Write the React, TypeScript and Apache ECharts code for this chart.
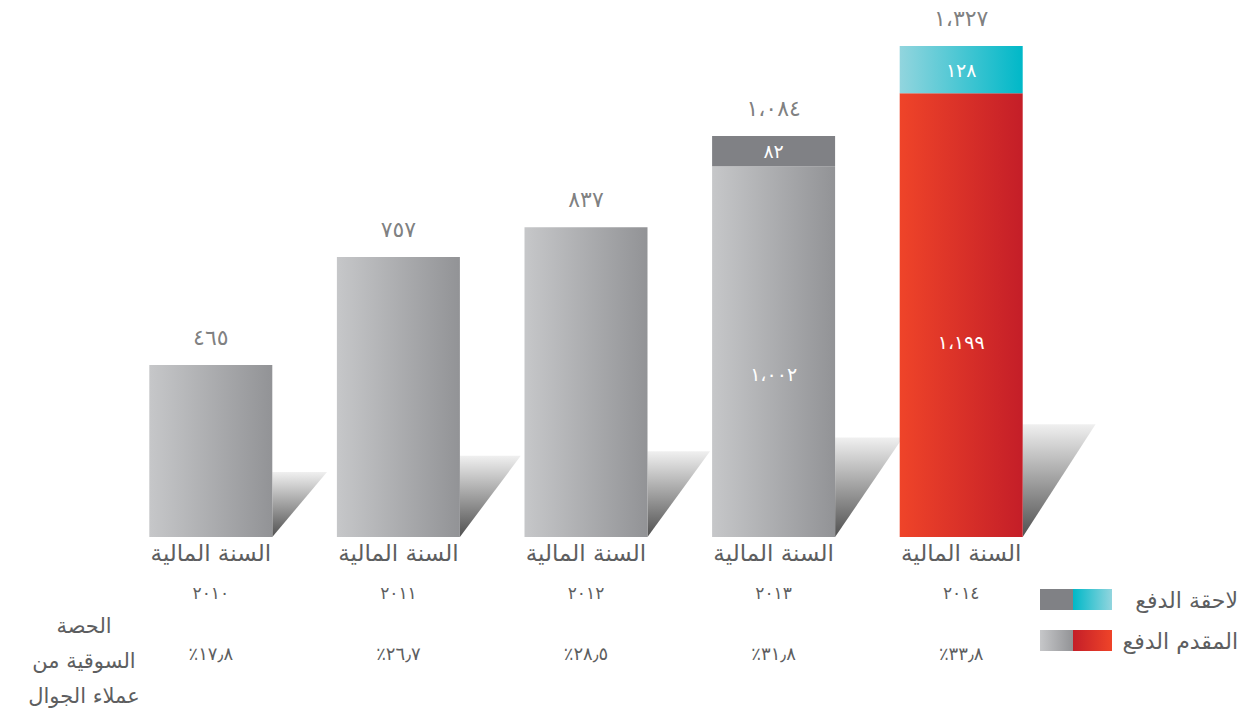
import React, { useEffect, useRef } from "react";
import * as echarts from "echarts";

const years = ["٢٠١٠", "٢٠١١", "٢٠١٢", "٢٠١٣", "٢٠١٤"];
const yearPrefix = "السنة المالية";
const prepaid = [465, 757, 837, 1002, 1199];
const postpaid: (number | null)[] = [null, null, null, 82, 128];
const totals = [465, 757, 837, 1084, 1327];
const totalLabels = ["٤٦٥", "٧٥٧", "٨٣٧", "١،٠٨٤", "١،٣٢٧"];
const prepaidLabels = ["", "", "", "١،٠٠٢", "١،١٩٩"];
const postpaidLabels = ["", "", "", "٨٢", "١٢٨"];
const marketShare = ["٪١٧٫٨", "٪٢٦٫٧", "٪٢٨٫٥", "٪٣١٫٨", "٪٣٣٫٨"];
const shareTitle = "الحصة\nالسوقية من\nعملاء الجوال";
const legendPost = "لاحقة الدفع";
const legendPre = "المقدم الدفع";

const FONT = "DejaVu Sans";
const BAR_W = 123;
const TEXT = "#5d5e60";

const grad = (c0: string, c1: string) =>
  new echarts.graphic.LinearGradient(0, 0, 1, 0, [
    { offset: 0, color: c0 },
    { offset: 1, color: c1 },
  ]);

export default function App() {
  const ref = useRef<HTMLDivElement>(null);
  useEffect(() => {
    if (!ref.current) return;
    const chart = echarts.init(ref.current, null, { renderer: "svg" });
    const greyG = () => grad("#c6c7c9", "#929396");
    const redG = () => grad("#ef4429", "#c41e28");
    const cyanG = () => grad("#92d5de", "#00b8c8");

    const option: any = {
      animation: false,
      grid: { left: 117, right: 194, top: 19, bottom: 171 },
      xAxis: [
        {
          type: "category",
          data: years,
          position: "bottom",
          axisLine: { show: false },
          axisTick: { show: false },
          axisLabel: {
            margin: 1,
            formatter: (v: string) => `{a|${yearPrefix}}\n{b|${v}}`,
            rich: {
              a: { fontFamily: FONT, fontSize: 23, color: TEXT, lineHeight: 30 },
              b: { fontFamily: FONT, fontSize: 17, color: TEXT, lineHeight: 50 },
            },
          },
        },
        {
          type: "category",
          data: marketShare,
          position: "bottom",
          axisLine: { show: false },
          axisTick: { show: false },
          axisLabel: {
            margin: 104,
            fontFamily: FONT,
            fontSize: 18,
            color: TEXT,
            lineHeight: 24,
          },
        },
      ],
      yAxis: { type: "value", min: 0, max: 1400, show: false, splitLine: { show: false } },
      series: [
        {
          type: "custom",
          z: 1,
          data: totals.map((t, i) => [i, t]),
          renderItem: (params: any, api: any) => {
            const i = api.value(0);
            const total = api.value(1);
            const base = api.coord([i, 0]);
            const top = api.coord([i, 106 + 0.15 * total]);
            const x0 = base[0] + BAR_W / 2;
            const h = base[1] - top[1];
            const w = 30 + 0.38 * h;
            return {
              type: "polygon",
              shape: { points: [[x0, top[1]], [x0 + w, top[1]], [x0, base[1]]] },
              style: {
                fill: new echarts.graphic.LinearGradient(0, 0, 0, 1, [
                  { offset: 0, color: "#f0f0f0" },
                  { offset: 1, color: "#505050" },
                ]),
              },
            };
          },
        },
        {
          type: "bar",
          stack: "s",
          z: 2,
          barWidth: BAR_W,
          data: prepaid.map((v, i) => ({
            value: v,
            itemStyle: { color: i === 4 ? redG() : greyG() },
          })),
          label: {
            show: true,
            position: ["50%", "56%"],
            align: "center",
            verticalAlign: "middle",
            fontFamily: FONT,
            fontSize: 19,
            color: "#ffffff",
            formatter: (p: any) => prepaidLabels[p.dataIndex],
          },
        },
        {
          type: "bar",
          stack: "s",
          z: 2,
          barWidth: BAR_W,
          data: postpaid.map((v, i) => ({
            value: v,
            itemStyle: { color: i === 4 ? cyanG() : "#808185" },
          })),
          label: {
            show: true,
            position: "inside",
            fontFamily: FONT,
            fontSize: 19,
            color: "#ffffff",
            formatter: (p: any) => postpaidLabels[p.dataIndex],
          },
        },
        {
          type: "scatter",
          z: 3,
          symbolSize: 1,
          itemStyle: { color: "transparent" },
          data: totals.map((t, i) => [i, t]),
          label: {
            show: true,
            position: "top",
            distance: 16,
            fontFamily: FONT,
            fontSize: 22,
            color: TEXT,
            formatter: (p: any) => totalLabels[p.dataIndex],
          },
        },
      ],
      graphic: [
        {
          type: "text",
          x: 84,
          y: 608,
          style: {
            text: shareTitle,
            fontFamily: FONT,
            fontSize: 21,
            lineHeight: 35,
            fill: TEXT,
            align: "center",
            verticalAlign: "top",
          },
        },
        { type: "rect", shape: { x: 1040, y: 589, width: 33, height: 21 }, style: { fill: "#808185" } },
        {
          type: "rect",
          shape: { x: 1073, y: 589, width: 39, height: 21 },
          style: { fill: grad("#00b8c8", "#92d5de") },
        },
        {
          type: "text",
          x: 1238,
          y: 600,
          style: { text: legendPost, fontFamily: FONT, fontSize: 22, fill: TEXT, align: "right", verticalAlign: "middle" },
        },
        {
          type: "rect",
          shape: { x: 1040, y: 630, width: 33, height: 21 },
          style: { fill: grad("#c6c7c9", "#929396") },
        },
        {
          type: "rect",
          shape: { x: 1073, y: 630, width: 39, height: 21 },
          style: { fill: grad("#c41e28", "#ef4429") },
        },
        {
          type: "text",
          x: 1238,
          y: 641,
          style: { text: legendPre, fontFamily: FONT, fontSize: 22, fill: TEXT, align: "right", verticalAlign: "middle" },
        },
      ],
    };
    chart.setOption(option);
    return () => chart.dispose();
  }, []);
  return (
    <div
      ref={ref}
      style={{ position: "fixed", left: 0, top: 0, width: 1249, height: 708, background: "#ffffff" }}
    />
  );
}
